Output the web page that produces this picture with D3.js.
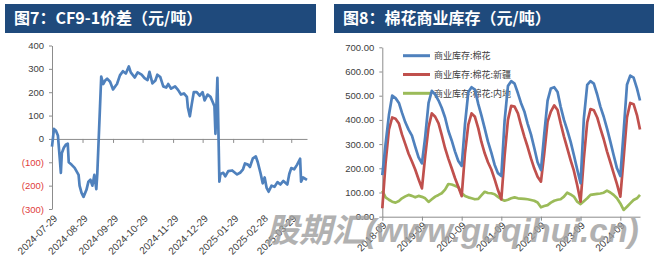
<!DOCTYPE html>
<html>
<head>
<meta charset="utf-8">
<script src="https://cdn.jsdelivr.net/npm/d3@7"></script>
<style>
  body { margin: 0; background: #fff; }
  svg { display: block; font-family: "Liberation Sans", Arial, sans-serif; }
</style>
</head>
<body>
<div id="chart"></div>
<script>
// ---- data: figure 7, CF9-1 spread ----
const spreadDates = [
  "2024-07-29","2024-07-31","2024-08-02","2024-08-04","2024-08-06","2024-08-07","2024-08-08","2024-08-10","2024-08-12","2024-08-14",
  "2024-08-15","2024-08-18","2024-08-21","2024-08-25","2024-08-26","2024-08-28","2024-08-30","2024-09-02","2024-09-04","2024-09-06",
  "2024-09-08","2024-09-10","2024-09-12","2024-09-13","2024-09-17","2024-09-19","2024-09-21","2024-09-23","2024-09-26","2024-09-29",
  "2024-10-03","2024-10-06","2024-10-09","2024-10-12","2024-10-15","2024-10-17","2024-10-21","2024-10-24","2024-10-28","2024-10-31",
  "2024-11-03","2024-11-05","2024-11-08","2024-11-11","2024-11-13","2024-11-16","2024-11-19","2024-11-22","2024-11-24","2024-11-27",
  "2024-12-01","2024-12-04","2024-12-07","2024-12-10","2024-12-13","2024-12-14","2024-12-16","2024-12-18","2024-12-20","2024-12-23",
  "2024-12-26","2024-12-29","2024-12-31","2025-01-03","2025-01-06","2025-01-08","2025-01-10","2025-01-11","2025-01-13","2025-01-15",
  "2025-01-16","2025-01-19","2025-01-21","2025-01-24","2025-01-28","2025-02-02","2025-02-05","2025-02-08","2025-02-10","2025-02-13",
  "2025-02-15","2025-02-18","2025-02-21","2025-02-23","2025-02-26","2025-02-28","2025-03-02","2025-03-04","2025-03-06","2025-03-09",
  "2025-03-12","2025-03-15","2025-03-18","2025-03-21","2025-03-25","2025-03-27","2025-03-29","2025-04-01","2025-04-04","2025-04-07",
  "2025-04-08","2025-04-10","2025-04-14"
];
const spreadValues = [
  -33, 43, 35, 15, -90, -145, -60, -38, -25, -20,
  -100, -111, -124, -154, -200, -231, -248, -218, -183, -175,
  -200, -154, -215, -150, 267, 235, 250, 258, 245, 212,
  235, 272, 290, 280, 310, 285, 263, 285, 275, 260,
  252, 287, 238, 250, 275, 265, 225, 220, 235, 215,
  225, 210, 190, 195, 180, 135, 97, 150, 200, 200,
  185, 200, 165, 190, 180, 160, 140, 22, 262, -183,
  -150, -145, -160, -138, -135, -152, -145, -130, -105, -110,
  -120, -83, -75, -100, -150, -190, -165, -210, -226, -200,
  -205, -185, -195, -180, -195, -150, -125, -130, -110, -85,
  -183, -165, -175
];
const spreadTickDates = ["2024-07-29","2024-08-29","2024-09-29","2024-10-29","2024-11-29",
  "2024-12-29","2025-01-29","2025-02-28","2025-03-29"];
const spreadTickValues = [-300, -200, -100, 0, 100, 200, 300, 400];

// ---- data: figure 8, cotton commercial stock ----
const stockMonths = [
  "2018-09","2018-10","2018-11","2018-12","2019-01","2019-02","2019-03","2019-04","2019-05","2019-06","2019-07","2019-08",
  "2019-09","2019-10","2019-11","2019-12","2020-01","2020-02","2020-03","2020-04","2020-05","2020-06","2020-07","2020-08",
  "2020-09","2020-10","2020-11","2020-12","2021-01","2021-02","2021-03","2021-04","2021-05","2021-06","2021-07","2021-08",
  "2021-09","2021-10","2021-11","2021-12","2022-01","2022-02","2022-03","2022-04","2022-05","2022-06","2022-07","2022-08",
  "2022-09","2022-10","2022-11","2022-12","2023-01","2023-02","2023-03","2023-04","2023-05","2023-06","2023-07","2023-08",
  "2023-09","2023-10","2023-11","2023-12","2024-01","2024-02","2024-03","2024-04","2024-05","2024-06","2024-07","2024-08",
  "2024-09","2024-10","2024-11","2024-12","2025-01","2025-02","2025-03"
];
const stockTotal = [
  172, 300, 420, 500, 490, 470, 430, 390, 360, 335, 290, 245,
  220, 330, 470, 520, 505, 480, 450, 410, 355, 315, 270, 230,
  210, 380, 515, 535, 525, 465, 420, 365, 310, 265, 215, 180,
  168, 395, 540, 560, 550, 510, 470, 435, 385, 340, 285, 225,
  193, 340, 480, 530, 535, 515, 455, 400, 358, 310, 255, 195,
  138, 405, 545, 560, 550, 505, 455, 413, 365, 310, 255, 200,
  168, 350, 545, 583, 575, 530, 480
];
const stockXinjiang = [
  35, 220, 360, 410, 405, 385, 340, 300, 260, 228, 195, 155,
  117, 250, 370, 427, 413, 386, 338, 283, 240, 200, 160, 124,
  85, 260, 380, 427, 413, 365, 310, 262, 225, 195, 155, 110,
  72, 250, 400, 458, 455, 427, 379, 331, 289, 241, 200, 165,
  145, 260, 393, 434, 460, 441, 386, 331, 283, 234, 190, 130,
  62, 240, 390, 445, 440, 410, 365, 320, 270, 225, 180, 135,
  83, 240, 410, 470, 465, 420, 360
];
const stockInland = [
  108, 80, 70, 62, 58, 65, 76, 84, 90, 86, 80, 86,
  82, 76, 61, 72, 83, 90, 97, 112, 135, 133, 128, 122,
  97, 86, 80, 76, 72, 74, 88, 103, 98, 97, 93, 82,
  72, 66, 70, 76, 80, 76, 75, 74, 72, 69, 66, 59,
  39, 44, 48, 58, 66, 70, 72, 83, 99, 92, 83, 62,
  52, 64, 76, 90, 92, 94, 96, 99, 108, 100, 90, 76,
  55, 28, 41, 55, 69, 76, 90
];
const stockTickMonths = ["2018-09","2019-09","2020-09","2021-09","2022-09","2023-09","2024-09"];
const stockTickValues = [0, 100, 200, 300, 400, 500, 600, 700];
const stockSeries = [
  { name: "商业库存:棉花", values: stockTotal, color: "#4f81bd" },
  { name: "商业库存:棉花:新疆", values: stockXinjiang, color: "#c0504d" },
  { name: "商业库存:棉花:内地", values: stockInland, color: "#9bbb59" }
];

const parseDay = d3.timeParse("%Y-%m-%d");
const parseMonth = d3.timeParse("%Y-%m");
const axisColor = "#8c8c8c";
const textColor = "#404040";

const svg = d3.select("#chart").append("svg")
  .attr("width", 667)
  .attr("height", 263);

svg.append("rect").attr("width", 667).attr("height", 263).attr("fill", "#fff");

// title bars
function titleBar(x0, w, label) {
  svg.append("rect")
    .attr("x", x0).attr("y", 4)
    .attr("width", w).attr("height", 29)
    .attr("fill", "#1f4a7c");
  svg.append("text")
    .attr("x", x0 + 9).attr("y", 24)
    .attr("fill", "#fff")
    .attr("font-family", "'Noto Sans CJK SC', sans-serif")
    .attr("font-weight", "bold")
    .attr("font-size", 16)
    .text(label);
}
titleBar(5, 311, "图7：CF9-1价差（元/吨）");
titleBar(334, 320, "图8：棉花商业库存（元/吨）");

function styleAxis(g) {
  g.selectAll("path, line").attr("stroke", axisColor).attr("stroke-width", 1);
  g.selectAll("text").attr("font-size", 9.5).attr("fill", textColor)
    .attr("font-family", "'Liberation Sans', Arial, sans-serif");
}

/* ---------- figure 7 ---------- */
const spreadData = spreadDates.map((d, i) => ({ date: parseDay(d), value: spreadValues[i] }));

const x1 = d3.scaleTime()
  .domain(d3.extent(spreadData, d => d.date))
  .range([52, 307]);
const y1 = d3.scaleLinear()
  .domain([-300, 400])
  .range([209, 45.5]);

const yAxis1 = svg.append("g")
  .attr("transform", "translate(52,0)")
  .call(d3.axisLeft(y1).tickValues(spreadTickValues).tickSize(3).tickPadding(5).tickSizeOuter(0)
    .tickFormat(d => d < 0 ? `(${-d})` : d));
styleAxis(yAxis1);
yAxis1.selectAll("text").attr("fill", d => d < 0 ? "#e03c3c" : textColor);

const xAxis1 = svg.append("g")
  .attr("transform", `translate(0,${y1(0)})`)
  .call(d3.axisBottom(x1).tickValues(spreadTickDates.map(parseDay)).tickSize(4).tickSizeOuter(0).tickFormat(""));
styleAxis(xAxis1);

svg.append("g").selectAll("text")
  .data(spreadTickDates)
  .join("text")
  .attr("transform", d => `translate(${x1(parseDay(d)) + 6},219) rotate(-45)`)
  .attr("text-anchor", "end")
  .attr("font-size", 10)
  .attr("fill", textColor)
  .text(d => d);

svg.append("path")
  .datum(spreadData)
  .attr("fill", "none")
  .attr("stroke", "#4f81bd")
  .attr("stroke-width", 2.7)
  .attr("stroke-linejoin", "round")
  .attr("d", d3.line().x(d => x1(d.date)).y(d => y1(d.value)));

/* ---------- figure 8 ---------- */
const months = stockMonths.map(parseMonth);

const x2 = d3.scaleTime()
  .domain(d3.extent(months))
  .range([382.3, 640]);
const y2 = d3.scaleLinear()
  .domain([0, 700])
  .range([216.7, 47.3]);

const yAxis2 = svg.append("g")
  .attr("transform", "translate(382.3,0)")
  .call(d3.axisLeft(y2).tickValues(stockTickValues).tickSize(3).tickPadding(5).tickSizeOuter(0)
    .tickFormat(d3.format(".2f")));
styleAxis(yAxis2);

const xAxis2 = svg.append("g")
  .attr("transform", `translate(0,${y2(0)})`)
  .call(d3.axisBottom(x2).tickValues(stockTickMonths.map(parseMonth)).tickSize(4).tickSizeOuter(0).tickFormat(""));
styleAxis(xAxis2);

svg.append("g").selectAll("text")
  .data(stockTickMonths)
  .join("text")
  .attr("transform", d => `translate(${x2(parseMonth(d)) + 5},226) rotate(-45)`)
  .attr("text-anchor", "end")
  .attr("font-size", 10)
  .attr("fill", textColor)
  .text(d => d);

// legend (drawn under the lines)
const legend = svg.append("g").attr("transform", "translate(403,0)");
const legendY = d3.scalePoint().domain(stockSeries.map(s => s.name)).range([55.7, 93.3]);
stockSeries.forEach(s => {
  legend.append("line")
    .attr("x1", 0).attr("x2", 27)
    .attr("y1", legendY(s.name)).attr("y2", legendY(s.name))
    .attr("stroke", s.color).attr("stroke-width", 3);
  legend.append("text")
    .attr("x", 31).attr("y", legendY(s.name) + 3.2)
    .attr("font-family", "'Noto Sans CJK SC', sans-serif")
    .attr("font-size", 9)
    .attr("fill", textColor)
    .text(s.name);
});

const line2 = d3.line().x((d, i) => x2(months[i])).y(d => y2(d));
// inland first, total on top
[stockSeries[2], stockSeries[1], stockSeries[0]].forEach(s => {
  svg.append("path")
    .datum(s.values)
    .attr("fill", "none")
    .attr("stroke", s.color)
    .attr("stroke-width", 2.7)
    .attr("stroke-linejoin", "round")
    .attr("d", line2);
});

// watermark
svg.append("text")
  .attr("x", 266).attr("y", 242)
  .attr("font-family", "'Liberation Sans', 'Noto Sans CJK SC', sans-serif")
  .attr("font-weight", "bold")
  .attr("font-style", "italic")
  .attr("font-size", 33)
  .attr("fill", "#9e9e9e")
  .attr("opacity", 0.8)
  .text("股期汇(www.guqihui.cn)");
</script>
</body>
</html>
